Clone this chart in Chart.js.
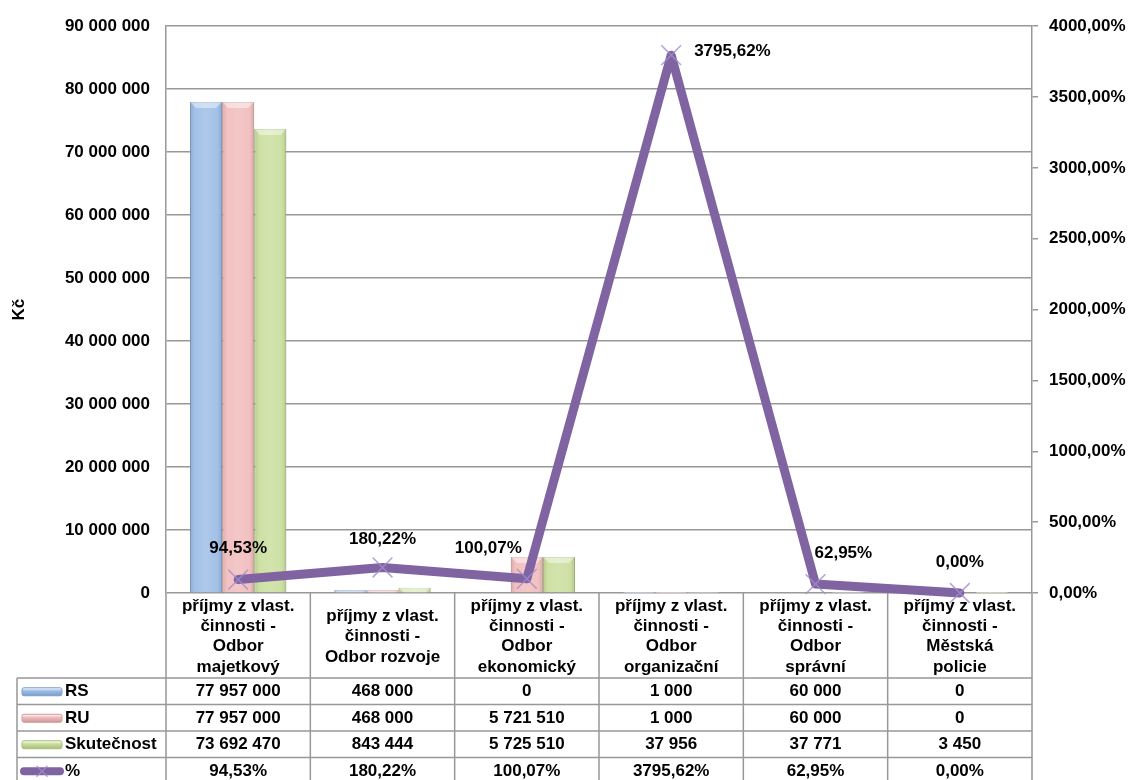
<!DOCTYPE html>
<html>
<head>
<meta charset="utf-8">
<script src="https://cdn.jsdelivr.net/npm/chart.js@4.4.0/dist/chart.umd.min.js"></script>
<style>
  html, body { margin: 0; padding: 0; background: #fff; }
</style>
</head>
<body>
<canvas id="chart" width="1129" height="780"></canvas>
<script>
const categories = [
  ['příjmy z vlast.', 'činnosti -', 'Odbor', 'majetkový'],
  ['příjmy z vlast.', 'činnosti -', 'Odbor rozvoje'],
  ['příjmy z vlast.', 'činnosti -', 'Odbor', 'ekonomický'],
  ['příjmy z vlast.', 'činnosti -', 'Odbor', 'organizační'],
  ['příjmy z vlast.', 'činnosti -', 'Odbor', 'správní'],
  ['příjmy z vlast.', 'činnosti -', 'Městská', 'policie']
];
const rsValues = [77957000, 468000, 0, 1000, 60000, 0];
const ruValues = [77957000, 468000, 5721510, 1000, 60000, 0];
const skutecnostValues = [73692470, 843444, 5725510, 37956, 37771, 3450];
const percentValues = [94.53, 180.22, 100.07, 3795.62, 62.95, 0.00];

const leftTicks = { min: 0, max: 90000000, step: 10000000 };
const rightTicks = { min: 0, max: 4000, step: 500 };

const FONT = "'Liberation Sans', Arial, sans-serif";
const FS = 17;
const gridColor = '#989898';
const barColors = {
  RS: { fill: '#9bbce5', edge: '#7b9dca' },
  RU: { fill: '#f1bbbb', edge: '#cf9a9a' },
  Skutečnost: { fill: '#c9de9c', edge: '#a7bd79' }
};
const lineColor = '#8064a2';
const markerColor = 'rgba(160,140,205,0.8)';

// label placement for the % points: [dx, dy, align]
const pctLabelPlacement = [
  [0, -31, 'center'], [0, -28, 'center'], [-5, -31, 'right'],
  [23, -4, 'left'], [-1, -31, 'left'], [0, -31, 'center']
];

function formatKc(v) {
  return String(Math.round(v)).replace(/\B(?=(\d{3})+(?!\d))/g, ' ');
}
function formatPct(v) {
  return v.toFixed(2).replace('.', ',') + '%';
}

const tableRows = [
  { label: 'RS', kind: 'bar', colors: barColors.RS, values: rsValues, fmt: formatKc },
  { label: 'RU', kind: 'bar', colors: barColors.RU, values: ruValues, fmt: formatKc },
  { label: 'Skutečnost', kind: 'bar', colors: barColors.Skutečnost, values: skutecnostValues, fmt: formatKc },
  { label: '%', kind: 'line', values: percentValues, fmt: formatPct }
];

function drawCross(ctx, cx, cy, r) {
  ctx.save();
  ctx.strokeStyle = markerColor;
  ctx.lineWidth = 1.5;
  ctx.beginPath();
  ctx.moveTo(cx - r, cy - r); ctx.lineTo(cx + r, cy + r);
  ctx.moveTo(cx + r, cy - r); ctx.lineTo(cx - r, cy + r);
  ctx.stroke();
  ctx.restore();
}

// bevel look on each bar, drawn over the bars the library placed
const barShading = {
  id: 'barShading',
  afterDatasetDraw(chart, args) {
    const meta = args.meta;
    if (meta.type !== 'bar') return;
    const ctx = chart.ctx;
    ctx.save();
    meta.data.forEach((el) => {
      const left = el.x - el.width / 2;
      const right = el.x + el.width / 2;
      const top = Math.min(el.y, el.base);
      const h = Math.abs(el.base - el.y);
      if (h < 0.5) return;
      const g = ctx.createLinearGradient(left, 0, right, 0);
      g.addColorStop(0, 'rgba(0,0,0,0.10)');
      g.addColorStop(0.15, 'rgba(255,255,255,0.08)');
      g.addColorStop(0.5, 'rgba(255,255,255,0.18)');
      g.addColorStop(0.85, 'rgba(255,255,255,0.08)');
      g.addColorStop(1, 'rgba(0,0,0,0.12)');
      ctx.fillStyle = g;
      ctx.fillRect(left, top, right - left, h);
      const b = Math.min(6, h);
      ctx.fillStyle = 'rgba(255,255,255,0.45)';
      ctx.beginPath();
      ctx.moveTo(left, top); ctx.lineTo(right, top);
      ctx.lineTo(right - b, top + b); ctx.lineTo(left + b, top + b);
      ctx.closePath();
      ctx.fill();
    });
    ctx.restore();
  }
};

const pctLabels = {
  id: 'pctLabels',
  afterDatasetsDraw(chart) {
    const ctx = chart.ctx;
    chart.data.datasets.forEach((ds, di) => {
      if (ds.type !== 'line') return;
      const meta = chart.getDatasetMeta(di);
      ctx.save();
      ctx.font = 'bold ' + FS + 'px ' + FONT;
      ctx.fillStyle = '#000';
      ctx.textBaseline = 'middle';
      meta.data.forEach((pt, i) => {
        const p = pctLabelPlacement[i];
        ctx.textAlign = p[2];
        ctx.fillText(formatPct(ds.data[i]), pt.x + p[0], pt.y + p[1]);
      });
      ctx.restore();
    });
  }
};

const dataTable = {
  id: 'dataTable',
  afterDraw(chart) {
    const ctx = chart.ctx;
    const xs = chart.scales.x;
    const area = chart.chartArea;
    const legendLeft = 17;
    const top = xs.bottom;
    const rowH = 26.5;
    const bottom = top + rowH * tableRows.length;
    const colW = xs.width / categories.length;

    ctx.save();
    ctx.strokeStyle = gridColor;
    ctx.lineWidth = 1.5;
    ctx.beginPath();
    for (let i = 0; i <= categories.length; i++) {
      const cx = xs.left + colW * i;
      ctx.moveTo(cx, area.bottom);
      ctx.lineTo(cx, bottom);
    }
    ctx.moveTo(legendLeft, top);
    ctx.lineTo(legendLeft, bottom);
    for (let r = 0; r <= tableRows.length; r++) {
      const y = top + rowH * r;
      ctx.moveTo(legendLeft, y);
      ctx.lineTo(area.right, y);
    }
    ctx.stroke();

    ctx.font = 'bold ' + FS + 'px ' + FONT;
    ctx.fillStyle = '#000';
    ctx.textBaseline = 'middle';
    tableRows.forEach((row, r) => {
      const cy = top + rowH * r + rowH / 2 + 0.5;
      // legend key
      if (row.kind === 'bar') {
        const g = ctx.createLinearGradient(0, cy - 4, 0, cy + 4);
        g.addColorStop(0, '#ffffff');
        g.addColorStop(0.4, row.colors.fill);
        g.addColorStop(1, row.colors.edge);
        ctx.fillStyle = g;
        ctx.strokeStyle = row.colors.edge;
        ctx.lineWidth = 1;
        ctx.beginPath();
        ctx.roundRect(22, cy - 4, 40, 8, 2);
        ctx.fill();
        ctx.stroke();
      } else {
        ctx.strokeStyle = lineColor;
        ctx.lineWidth = 8;
        ctx.lineCap = 'round';
        ctx.beginPath();
        ctx.moveTo(24, cy);
        ctx.lineTo(60, cy);
        ctx.stroke();
        drawCross(ctx, 42, cy, 5);
      }
      ctx.fillStyle = '#000';
      ctx.textAlign = 'left';
      ctx.fillText(row.label, 65, cy);
      ctx.textAlign = 'center';
      row.values.forEach((v, i) => {
        ctx.fillText(row.fmt(v), xs.left + colW * (i + 0.5), cy);
      });
    });
    ctx.restore();
  }
};

const ctx = document.getElementById('chart').getContext('2d');
new Chart(ctx, {
  data: {
    labels: categories,
    datasets: [
      {
        type: 'line',
        label: '%',
        data: percentValues,
        yAxisID: 'y1',
        order: 0,
        borderColor: lineColor,
        borderWidth: 9,
        borderJoinStyle: 'round',
        borderCapStyle: 'round',
        tension: 0,
        fill: false,
        clip: false,
        pointStyle: 'crossRot',
        pointRadius: 14,
        pointBorderWidth: 1.5,
        pointBorderColor: markerColor,
        pointBackgroundColor: 'transparent'
      },
      {
        type: 'bar', label: 'RS', data: rsValues, yAxisID: 'y', order: 1,
        backgroundColor: barColors.RS.fill, borderColor: barColors.RS.edge, borderWidth: 1,
        categoryPercentage: 0.667, barPercentage: 1
      },
      {
        type: 'bar', label: 'RU', data: ruValues, yAxisID: 'y', order: 1,
        backgroundColor: barColors.RU.fill, borderColor: barColors.RU.edge, borderWidth: 1,
        categoryPercentage: 0.667, barPercentage: 1
      },
      {
        type: 'bar', label: 'Skutečnost', data: skutecnostValues, yAxisID: 'y', order: 1,
        backgroundColor: barColors.Skutečnost.fill, borderColor: barColors.Skutečnost.edge, borderWidth: 1,
        categoryPercentage: 0.667, barPercentage: 1
      }
    ]
  },
  options: {
    responsive: false,
    animation: false,
    layout: { padding: { top: 23, left: 4, right: 0, bottom: 102 } },
    plugins: {
      legend: { display: false },
      tooltip: { enabled: false }
    },
    scales: {
      x: {
        offset: true,
        grid: { display: false },
        border: { display: false },
        ticks: {
          autoSkip: false,
          maxRotation: 0,
          padding: 5,
          crossAlign: 'center',
          color: '#000',
          font: { family: FONT, size: FS, weight: 'bold', lineHeight: 1.2 }
        },
        afterFit(scale) { scale.height = 85; }
      },
      y: {
        position: 'left',
        min: leftTicks.min,
        max: leftTicks.max,
        grid: { color: gridColor, lineWidth: 1.5, drawTicks: false },
        border: { display: true, color: gridColor, width: 1.5 },
        ticks: {
          stepSize: leftTicks.step,
          padding: 16,
          color: '#000',
          font: { family: FONT, size: FS, weight: 'bold' },
          callback: (v) => formatKc(v)
        },
        title: {
          display: true,
          text: 'Kč',
          color: '#000',
          padding: { top: 5, bottom: 0 },
          font: { family: FONT, size: FS, weight: 'bold' }
        },
        afterFit(scale) { scale.width = 162; }
      },
      y1: {
        position: 'right',
        min: rightTicks.min,
        max: rightTicks.max,
        grid: { drawOnChartArea: false, color: gridColor, lineWidth: 1.5, tickLength: 6 },
        border: { display: true, color: gridColor, width: 1.5 },
        ticks: {
          stepSize: rightTicks.step,
          padding: 11,
          color: '#000',
          font: { family: FONT, size: FS, weight: 'bold' },
          callback: (v) => formatPct(v)
        },
        afterFit(scale) { scale.width = 97; }
      }
    }
  },
  plugins: [barShading, pctLabels, dataTable]
});
</script>
</body>
</html>
